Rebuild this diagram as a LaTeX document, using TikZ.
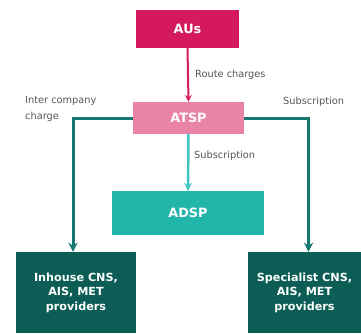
\documentclass[tikz,border=0pt]{standalone}
\usepackage{fontspec}
\setmainfont{DejaVu Sans}
\usetikzlibrary{positioning}
\definecolor{aucol}{HTML}{D41A5C}
\definecolor{atspcol}{HTML}{EA84A6}
\definecolor{adspcol}{HTML}{22B6AB}
\definecolor{provcol}{HTML}{0B5D55}
\definecolor{linecol}{HTML}{16786E}
\definecolor{subcol}{HTML}{40C4BF}
\definecolor{labcol}{HTML}{555555}
\tikzset{
	box/.style={draw=none,text=white,font=\bfseries\fontsize{12.8}{15}\selectfont,align=center},
	provbox/.style={box,fill=provcol,font=\bfseries\fontsize{11.2}{14.5}\selectfont},
	lab/.style={text=labcol,font=\fontsize{9.8}{16}\selectfont,inner sep=0pt},
}
\begin{document}
\begin{tikzpicture}[x=1pt,y=-1pt]
\useasboundingbox (0,0) rectangle (361,333);

%AUs
\node [box,fill=aucol,
	minimum width=103pt,
	minimum height=38pt,
]  (aus)at (187.5,29) {AUs};

%ATSP
\node [box,fill=atspcol,
	minimum width=111pt,
	minimum height=32pt,
]  (atsp)at (188.5,118) {ATSP};

%ADSP
\node [box,fill=adspcol,
	minimum width=152pt,
	minimum height=44pt,
]  (adsp)at (188,213) {ADSP};

%Providers
\node [provbox,
	minimum width=120pt,
	minimum height=81pt,
]  (inhouse)at (76,292.5) {Inhouse CNS,\\AIS, MET\\providers};
\node [provbox,
	minimum width=113pt,
	minimum height=81pt,
]  (special)at (304.5,292.5) {Specialist CNS,\\AIS, MET\\providers};

%Arrows
\draw[-stealth,aucol,line width=2pt]  (aus.south)--(atsp.north);
\draw[-stealth,subcol,line width=2.5pt]  (atsp.south)--(adsp.north);
\draw[-stealth,linecol,line width=3pt]  (atsp.west) -| ([xshift=-3pt]inhouse.north);
\draw[-stealth,linecol,line width=3pt]  (atsp.east) -| ([xshift=4pt]special.north);

%Labels
\node [lab,anchor=west]  (route)at (195,75) {Route charges};
\node [lab,anchor=west]  (subadsp)at (194,156) {Subscription};
\node [lab,anchor=west]  (subspec)at (283,102) {Subscription};
\node [lab,anchor=north west,align=left]  (inter)at (25,96) {Inter company\\charge};

\end{tikzpicture}
\end{document}
